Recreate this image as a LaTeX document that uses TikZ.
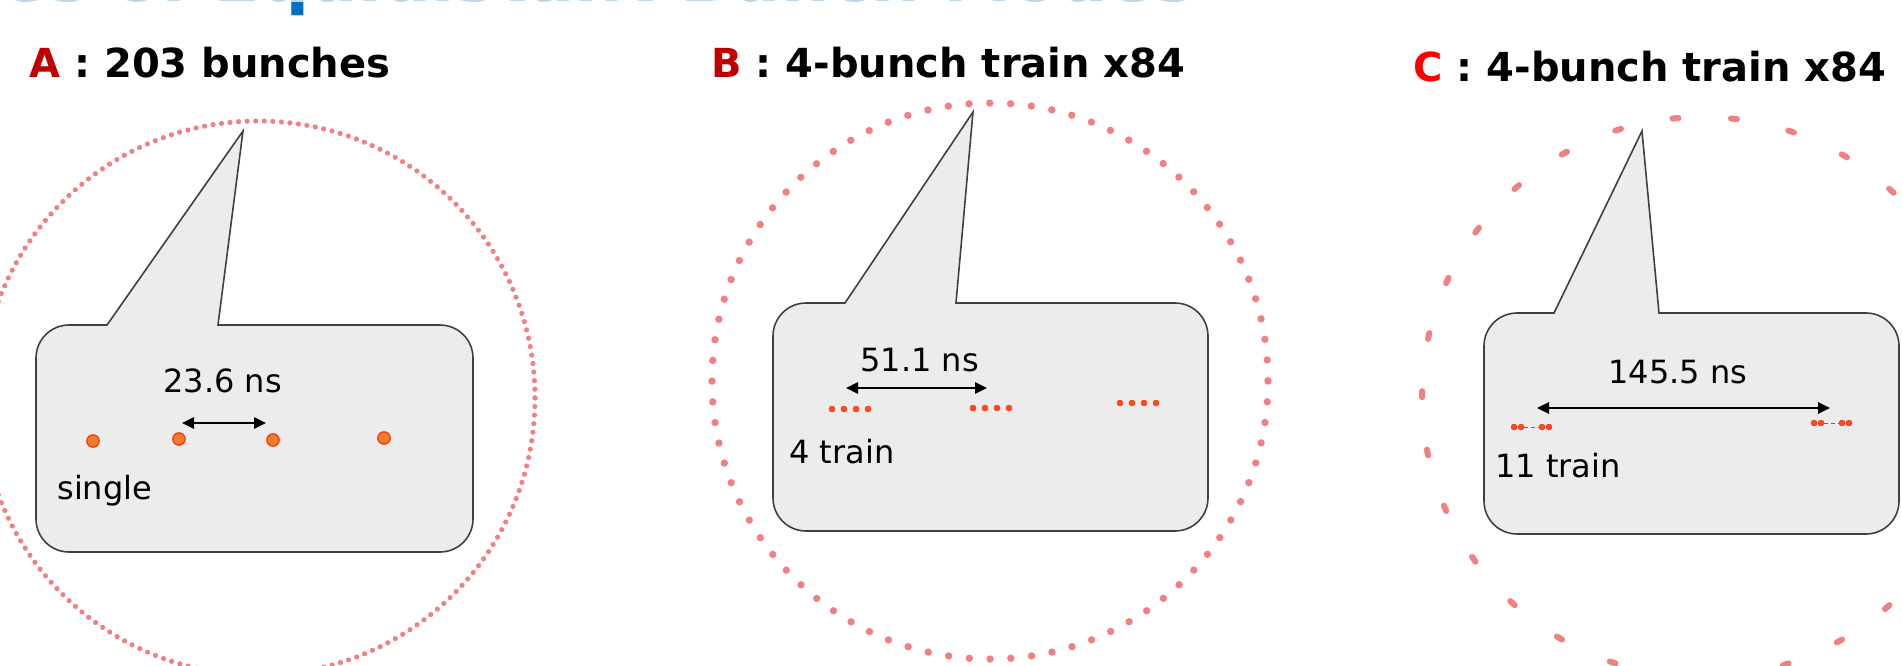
\documentclass[tikz,border=0pt]{standalone}
\usepackage{fontspec}
\setmainfont{DejaVu Sans}
\usetikzlibrary{arrows.meta}
\definecolor{ring}{RGB}{241,128,128}
\definecolor{bubfill}{RGB}{236,236,236}
\definecolor{bubline}{RGB}{64,64,64}
\definecolor{darkred}{RGB}{192,0,0}
\definecolor{brightred}{RGB}{255,0,0}
\definecolor{titleblue}{RGB}{0,112,192}
\definecolor{bunchfill}{RGB}{237,125,49}
\definecolor{bunchline}{RGB}{255,51,0}
\definecolor{smallbunch}{RGB}{255,72,36}
\begin{document}
\begin{tikzpicture}[x=0.5pt,y=-0.5pt,
  bubble/.style={draw=bubline,fill=bubfill,line width=0.8pt},
  ringA/.style={draw=ring,line width=2.6pt,line cap=round,dash pattern=on 0pt off 4.2868pt},
  ringB/.style={draw=ring,line width=3.7pt,line cap=round,dash pattern=on 0pt off 10.397pt},
  ringC/.style={draw=ring,line width=3pt,line cap=round,dash pattern=on 3pt off 26.32pt},
  ttl/.style={font=\bfseries\fontsize{20pt}{24pt}\selectfont,inner sep=0,anchor=base west},
  lbl/.style={font=\fontsize{16pt}{19pt}\selectfont,inner sep=0,anchor=base west},
  bigbunch/.style={circle,fill=bunchfill,draw=bunchline,line width=0.6pt,minimum size=6.2pt,inner sep=0},
  smallb/.style={circle,fill=smallbunch,draw=bunchline,line width=0.3pt,minimum size=2.9pt,inner sep=0},
  gap/.style={draw=bunchline,line width=0.5pt,dash pattern=on 2pt off 1.5pt},
  dim/.style={{Triangle[length=6pt,width=5.5pt]}-{Triangle[length=6pt,width=5.5pt]},line width=1.3pt,black}
]
\useasboundingbox (0,0) rectangle (1902,665);
\clip (0,0) rectangle (1902,665);

% cut-off page title (only its lowest part shows)
\node[font=\bfseries\fontsize{34.3pt}{40pt}\selectfont,text=titleblue,inner sep=0,anchor=base east] (title) at (1196,1) {Types of Equidistant Bunch Modes};
\fill[white,opacity=0.72] (0,-60) rectangle (1902,1.5);

% rings
\draw[ringA] (258,398) circle (277);
\draw[ringB] (990,381) circle (278);
\draw[ringC] (1702,397) circle (280);

% headings
\node[ttl] (hA) at (29,77) {{\color{darkred}A} : 203 bunches};
\node[ttl] (hB) at (711,77) {{\color{darkred}B} : 4-bunch train x84};
\node[ttl] (hC) at (1413,81) {{\color{brightred}C} : 4-bunch train x84};

% bubbles
\draw[bubble] (107,325) -- (243,131) -- (218,325) [rounded corners=16.5pt] -- (473,325) -- (473,552) -- (36,552) -- (36,325) [sharp corners] -- cycle;
\draw[bubble] (845,303) -- (973,112) -- (956,303) [rounded corners=16.5pt] -- (1208,303) -- (1208,531) -- (773,531) -- (773,303) [sharp corners] -- cycle;
\draw[bubble] (1554,313) -- (1642,131) -- (1659,313) [rounded corners=16.5pt] -- (1899,313) -- (1899,534) -- (1484,534) -- (1484,313) [sharp corners] -- cycle;

% bubble A content
\node[lbl] (tA) at (163,392) {23.6 ns};
\coordinate (aL) at (182,423);
\coordinate (aR) at (266,423);
\draw[dim] (aL) -- (aR);
\node[bigbunch] (a1) at (93,441) {};
\node[bigbunch] (a2) at (179,439) {};
\node[bigbunch] (a3) at (273,440) {};
\node[bigbunch] (a4) at (384,438) {};
\node[lbl] (sA) at (57,499) {single};

% bubble B content
\node[lbl] (tB) at (860,371) {51.1 ns};
\coordinate (bL) at (846,388);
\coordinate (bR) at (987,388);
\draw[dim] (bL) -- (bR);
\foreach \i/\x in {1/832,2/844,3/856,4/868} \node[smallb] (b1\i) at (\x,409) {};
\foreach \i/\x in {1/973,2/985,3/997,4/1009} \node[smallb] (b2\i) at (\x,408) {};
\foreach \i/\x in {1/1120,2/1132,3/1144,4/1156} \node[smallb] (b3\i) at (\x,403) {};
\node[lbl] (sB) at (789,463) {4 train};

% bubble C content
\node[lbl] (tC) at (1608,383) {145.5 ns};
\coordinate (cL) at (1537,408);
\coordinate (cR) at (1830,408);
\draw[dim] (cL) -- (cR);
\node[smallb] (c11) at (1514,427) {};
\node[smallb] (c12) at (1521,427) {};
\node[smallb] (c13) at (1542,427) {};
\node[smallb] (c14) at (1549,427) {};
\draw[gap] (c12) -- (c13);
\node[smallb] (c21) at (1814,423) {};
\node[smallb] (c22) at (1821,423) {};
\node[smallb] (c23) at (1842,423) {};
\node[smallb] (c24) at (1849,423) {};
\draw[gap] (c22) -- (c23);
\node[lbl] (sC) at (1495,477) {11 train};
\end{tikzpicture}
\end{document}
